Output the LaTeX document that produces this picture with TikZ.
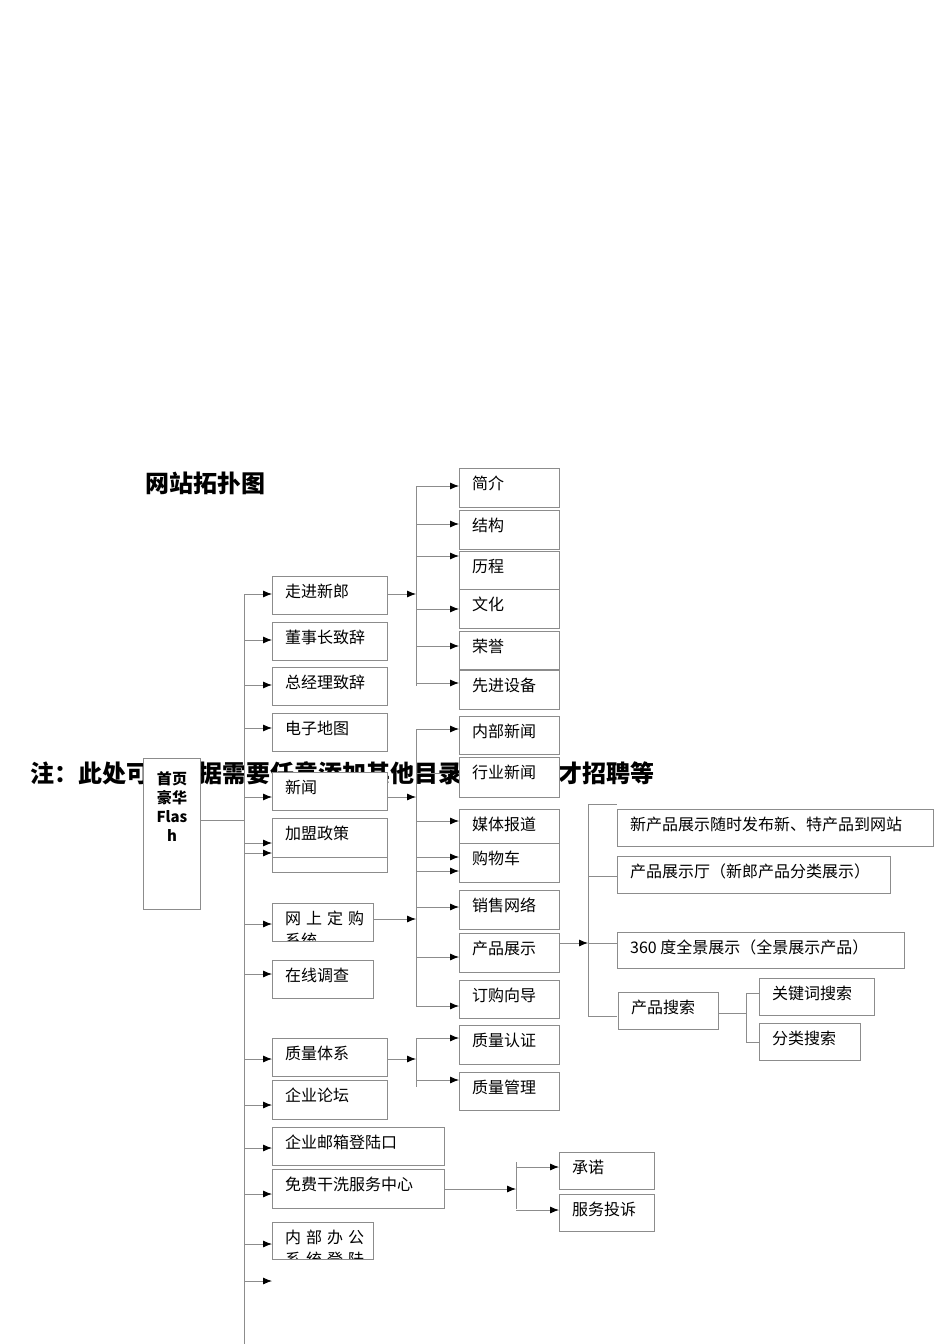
\documentclass[tikz,border=0pt]{standalone}
\usepackage{fontspec}
\setmainfont{Noto Sans CJK SC}
\XeTeXlinebreaklocale "zh"
\XeTeXlinebreakskip=0pt plus 1pt
\usetikzlibrary{arrows.meta}
\tikzset{
  ln/.style={draw=black!45,line width=0.8pt},
  ar/.style={ln,-{Latex[length=9pt,width=7pt,black]}},
  bxl/.style={draw=black!45,line width=0.8pt,fill=white},
  lab/.style={anchor=north west,inner sep=0pt,font=\fontsize{16}{22}\selectfont}
}
\newcommand{\bx}[6]{%
  \begin{scope}
  \draw[bxl] (#2,#3) rectangle (#4,#5);
  \clip (#2,#3) rectangle (#4,#5-1);
  \pgfmathsetmacro\tw{#4-#2-22}
  \node[lab,text width=\tw pt,align=justify] (#1) at (#2+13,#3+8) {#6};
  \end{scope}}
\begin{document}
\begin{tikzpicture}[x=1pt,y=-1pt]
\useasboundingbox (0,0) rectangle (950,1344);
\node[anchor=west,inner sep=0pt,font=\fontsize{24}{26}\selectfont\bfseries] (title) at (145,483) {网站拓扑图};
\node[anchor=west,inner sep=0pt,font=\fontsize{24}{26}\selectfont\bfseries] (note) at (30,774) {注：此处可以根据需要任意添加其他目录，包括人才招聘等};
% trunk
\draw[ln] (244,594) -- (244,1344);
\draw[ln] (200,820) -- (244,820);
\foreach \y in {594,640,685,728,797,843,853,924,974,1059,1105,1148,1194,1244,1281}
  \draw[ar] (244,\y) -- (272,\y);
% main box
\draw[bxl] (143,758) rectangle (200,909);
\node[align=center,inner sep=0pt,font=\fontsize{15}{19}\selectfont\bfseries,text width=40pt] (home) at (172,807) {首页\\豪华\\Flas\\h};
% level 1
\bx{a1}{272}{576}{387}{614}{走进新郎}
\bx{a2}{272}{622}{387}{660}{董事长致辞}
\bx{a3}{272}{667}{387}{705}{总经理致辞}
\bx{a4}{272}{713}{387}{751}{电子地图}
\bx{a5}{272}{772}{387}{810}{新闻}
\bx{a6}{272}{818}{387}{872}{加盟政策}
\draw[ln] (272,857) -- (387,857);
\bx{a7}{272}{903}{373}{941}{网上定购系统}
\bx{a8}{272}{960}{373}{998}{在线调查}
\bx{a9}{272}{1038}{387}{1076}{质量体系}
\bx{a10}{272}{1080}{387}{1119}{企业论坛}
\bx{a11}{272}{1127}{444}{1165}{企业邮箱登陆口}
\bx{a12}{272}{1169}{444}{1208}{免费干洗服务中心}
\bx{a13}{272}{1222}{373}{1259}{内部办公系统登陆口}
% group 1
\draw[ar] (387,594) -- (416,594);
\draw[ln] (416,486) -- (416,686);
\foreach \y in {486,524,556,609,646,683} \draw[ar] (416,\y) -- (459,\y);
\bx{b1}{459}{468}{559}{507}{简介}
\bx{b2}{459}{510}{559}{549}{结构}
\bx{b3}{459}{551}{559}{589}{历程}
\bx{b4}{459}{589}{559}{628}{文化}
\bx{b5}{459}{631}{559}{669}{荣誉}
\bx{b6}{459}{670}{559}{709}{先进设备}
% group 2
\draw[ar] (387,797) -- (416,797);
\draw[ar] (373,919) -- (416,919);
\draw[ln] (416,729) -- (416,1006);
\foreach \y in {729,773,821,857,871,907,957,1006} \draw[ar] (416,\y) -- (459,\y);
\bx{c1}{459}{716}{559}{754}{内部新闻}
\bx{c2}{459}{757}{559}{797}{行业新闻}
\bx{c3}{459}{809}{559}{843}{媒体报道}
\bx{c4}{459}{843}{559}{882}{购物车}
\bx{c5}{459}{890}{559}{929}{销售网络}
\bx{c6}{459}{933}{559}{972}{产品展示}
\bx{c7}{459}{980}{559}{1018}{订购向导}
% group 3
\draw[ar] (559,943) -- (588,943);
\draw[ln] (588,804) -- (588,1016);
\foreach \y in {804,876,943,1016} \draw[ln] (588,\y) -- (617,\y);
\bx{d1}{617}{809}{933}{846}{新产品展示随时发布新、特产品到网站}
\bx{d2}{617}{856}{890}{893}{产品展示厅（新郎产品分类展示）}
\bx{d3}{617}{932}{904}{968}{360 度全景展示（全景展示产品）}
\bx{d4}{618}{992}{718}{1029}{产品搜索}
\draw[ln] (718,1013) -- (746,1013);
\draw[ln] (746,993) -- (746,1042);
\draw[ln] (746,993) -- (759,993);
\draw[ln] (746,1042) -- (759,1042);
\bx{e1}{759}{978}{874}{1015}{关键词搜索}
\bx{e2}{759}{1023}{860}{1060}{分类搜索}
% group 4
\draw[ar] (387,1059) -- (416,1059);
\draw[ln] (416,1038) -- (416,1087);
\draw[ar] (416,1038) -- (459,1038);
\draw[ar] (416,1080) -- (459,1080);
\bx{f1}{459}{1025}{559}{1064}{质量认证}
\bx{f2}{459}{1072}{559}{1110}{质量管理}
% group 5
\draw[ar] (444,1189) -- (516,1189);
\draw[ln] (516,1162) -- (516,1209);
\draw[ar] (516,1167) -- (559,1167);
\draw[ar] (516,1210) -- (559,1210);
\bx{g1}{559}{1152}{654}{1189}{承诺}
\bx{g2}{559}{1194}{654}{1231}{服务投诉}
\end{tikzpicture}
\end{document}
